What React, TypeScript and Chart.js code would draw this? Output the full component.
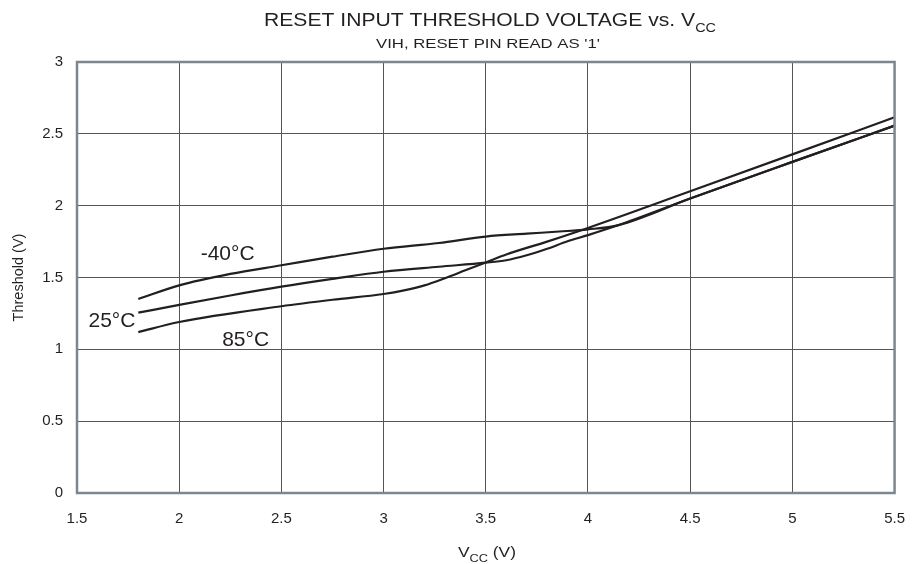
import React, { useEffect, useRef } from "react";
import { Chart, registerables } from "chart.js";

Chart.register(...registerables);

// ---- Data ----
const xM40 = [1.8, 2.0, 2.25, 2.5, 2.75, 3.0, 3.27, 3.5, 3.7, 3.86, 4.0, 4.15, 4.5, 5.0, 5.5];
const yM40 = [1.35, 1.445, 1.525, 1.585, 1.645, 1.70, 1.74, 1.785, 1.805, 1.82, 1.835, 1.865, 2.05, 2.305, 2.557];

const x25 = [1.8, 2.0, 2.25, 2.5, 2.75, 3.0, 3.27, 3.5, 3.6, 3.7, 3.8, 3.9, 4.0, 4.15, 4.5, 5.0, 5.5];
const y25 = [1.255, 1.31, 1.375, 1.436, 1.49, 1.54, 1.575, 1.603, 1.62, 1.655, 1.70, 1.752, 1.795, 1.865, 2.05, 2.305, 2.557];

const x85 = [1.8, 2.0, 2.5, 2.75, 3.0, 3.1, 3.2, 3.3, 3.4, 3.5, 3.6, 3.8, 4.0, 4.5, 5.0, 5.5];
const y85 = [1.12, 1.19, 1.30, 1.345, 1.385, 1.41, 1.445, 1.495, 1.55, 1.605, 1.66, 1.75, 1.845, 2.10, 2.357, 2.615];

const seriesNames = ["-40°C", "25°C", "85°C"];
const labelX = [2.237, 1.671, 2.325];
const labelY = [1.664, 1.197, 1.065];

const xTicks = [1.5, 2, 2.5, 3, 3.5, 4, 4.5, 5, 5.5];
const yTicks = [0, 0.5, 1, 1.5, 2, 2.5, 3];

const titleMain = "RESET INPUT THRESHOLD VOLTAGE vs. V";
const titleSub = "CC";
const subtitle = "VIH, RESET PIN READ AS '1'";
const xTitleMain = "V";
const xTitleSub = "CC";
const xTitleTail = " (V)";
const yTitle = "Threshold (V)";

const INK = "#231f20";
const FONT = "'Liberation Sans', Arial, sans-serif";

function toPts(xs: number[], ys: number[]) {
  return xs.map((x, i) => ({ x, y: ys[i] }));
}

type Part = { t: string; sub?: boolean };

function drawParts(
  ctx: CanvasRenderingContext2D,
  parts: Part[],
  cx: number,
  baseline: number,
  size: number,
  subSize: number,
  targetWidth: number
) {
  ctx.save();
  ctx.fillStyle = INK;
  ctx.textBaseline = "alphabetic";
  ctx.textAlign = "left";
  let total = 0;
  const widths = parts.map((p) => {
    ctx.font = `${p.sub ? subSize : size}px ${FONT}`;
    const w = ctx.measureText(p.t).width;
    total += w;
    return w;
  });
  const sx = targetWidth > 0 ? targetWidth / total : 1;
  ctx.translate(cx, baseline);
  ctx.scale(sx, 1);
  let x = -total / 2;
  parts.forEach((p, i) => {
    ctx.font = `${p.sub ? subSize : size}px ${FONT}`;
    ctx.fillText(p.t, x, p.sub ? size * 0.3 : 0);
    x += widths[i];
  });
  ctx.restore();
}

const decorPlugin = {
  id: "decor",
  afterDraw(chart: any) {
    const { ctx, chartArea, scales } = chart;
    ctx.save();
    ctx.strokeStyle = "#7e868e";
    ctx.lineWidth = 2.5;
    ctx.strokeRect(chartArea.left, chartArea.top, chartArea.right - chartArea.left, chartArea.bottom - chartArea.top);
    ctx.fillStyle = INK;
    ctx.font = `21px ${FONT}`;
    ctx.textAlign = "center";
    ctx.textBaseline = "middle";
    seriesNames.forEach((n, i) => {
      ctx.fillText(n, scales.x.getPixelForValue(labelX[i]), scales.y.getPixelForValue(labelY[i]));
    });
    ctx.restore();
    drawParts(ctx, [{ t: titleMain }, { t: titleSub, sub: true }], 490, 26, 19, 13, 452);
    drawParts(ctx, [{ t: subtitle }], 488, 48, 13, 13, 224);
    drawParts(ctx, [{ t: xTitleMain }, { t: xTitleSub, sub: true }, { t: xTitleTail }], 487, 557, 15, 11, 58);
  },
};

export default function App() {
  const ref = useRef<HTMLCanvasElement>(null);
  useEffect(() => {
    const mk = (xs: number[], ys: number[], i: number) => ({
      label: seriesNames[i],
      data: toPts(xs, ys),
      borderColor: INK,
      borderWidth: 2.2,
      pointRadius: 0,
      fill: false,
      cubicInterpolationMode: "monotone" as const,
    });
    const chart = new Chart(ref.current!, {
      type: "line",
      data: {
        datasets: [mk(xM40, yM40, 0), mk(x25, y25, 1), mk(x85, y85, 2)],
      },
      options: {
        animation: false,
        responsive: false,
        maintainAspectRatio: false,
        layout: { padding: { top: 62, right: 26, left: 0, bottom: 0 } },
        plugins: { legend: { display: false }, tooltip: { enabled: false }, title: { display: false } },
        scales: {
          x: {
            type: "linear",
            min: 1.5,
            max: 5.5,
            afterFit(scale: any) {
              scale.height = 71;
            },
            afterBuildTicks(scale: any) {
              scale.ticks = xTicks.map((v) => ({ value: v }));
            },
            grid: { color: "#555", lineWidth: 1, drawTicks: false },
            border: { display: false },
            ticks: {
              padding: 17,
              color: INK,
              font: { size: 15, family: FONT },
              maxRotation: 0,
              autoSkip: false,
              callback: (v: any) => String(v),
            },
          },
          y: {
            type: "linear",
            min: 0,
            max: 3,
            afterFit(scale: any) {
              scale.width = 77;
            },
            afterBuildTicks(scale: any) {
              scale.ticks = yTicks.map((v) => ({ value: v }));
            },
            grid: { color: "#555", lineWidth: 1, drawTicks: false },
            border: { display: false },
            ticks: { padding: 14, color: INK, font: { size: 15, family: FONT }, callback: (v: any) => String(v) },
            title: {
              display: true,
              text: yTitle,
              color: INK,
              font: { size: 14.5, family: FONT },
              padding: { top: 10, bottom: 0 },
            },
          },
        },
      },
      plugins: [decorPlugin],
    });
    return () => chart.destroy();
  }, []);
  return (
    <div style={{ position: "absolute", left: 0, top: 0, width: 922, height: 564, background: "#fff" }}>
      <canvas ref={ref} width={922} height={564} style={{ width: 922, height: 564, display: "block" }} />
    </div>
  );
}
